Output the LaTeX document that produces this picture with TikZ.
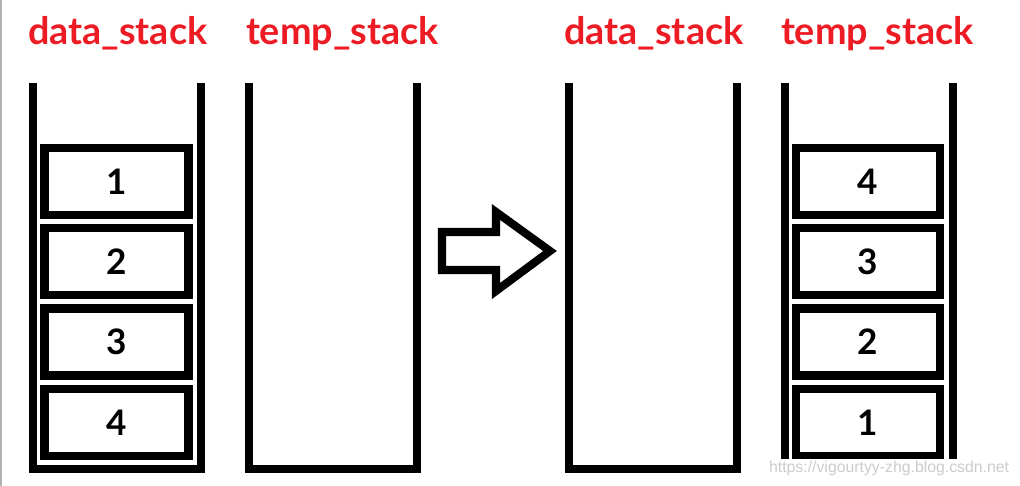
\documentclass[tikz,border=0pt]{standalone}
\usepackage{fontspec}
\setmainfont{Lato}
\newfontfamily\wmfont{Liberation Sans}
\definecolor{lblred}{RGB}{237,28,36}
\begin{document}
\begin{tikzpicture}[x=0.02cm,y=-0.02cm,
  wall/.style={line width=4.6pt,line join=miter},
  stackarea/.style={minimum width=3.36cm,minimum height=7.72cm,inner sep=0pt},
  item/.style={draw,line width=4.7pt,minimum width=2.88cm,minimum height=1.34cm,inner sep=0pt,font=\bfseries\fontsize{20}{24}\selectfont},
  title/.style={text=lblred,anchor=base west,inner sep=0pt,font=\bfseries\fontsize{21.5}{26}\selectfont}]
  \useasboundingbox (0,0) rectangle (1020,486);
  \draw[gray!60,line width=1pt] (0.8,0) -- (0.8,486);
  \foreach \n/\x in {ds1/117,ts1/333,ds2/653,ts2/869} {
    \node[stackarea] (\n) at (\x,276) {};
    \draw[wall] (\n.north west) -- (\n.south west) -- (\n.south east) -- (\n.north east);
  }
  \node[title] (lds1) at ([xshift=-0.1cm,yshift=0.76cm]ds1.north west) {data\_stack};
  \node[title] (lts1) at ([xshift=-0.06cm,yshift=0.76cm]ts1.north west) {temp\_stack};
  \node[title] (lds2) at ([xshift=-0.1cm,yshift=0.76cm]ds2.north west) {data\_stack};
  \node[title] (lts2) at ([xshift=-0.08cm,yshift=0.76cm]ts2.north west) {temp\_stack};
  \foreach \v/\y in {1/181.5,2/261.5,3/342,4/422.5} \node[item] (a\v) at (116.5,\y) {\v};
  \foreach \v/\y in {4/181.5,3/261.5,2/342,1/422.5} \node[item] (b\v) at (868,\y) {\v};
  \draw[wall] (442,232) -- (496,232) -- (496,212) -- (550,251) -- (496,291) -- (496,270) -- (442,270) -- cycle;
  \node[text=gray!40,fill=white,inner sep=1pt,anchor=base west,font=\wmfont\fontsize{9}{11}\selectfont] (mark) at (767,472) {https://vigourtyy-zhg.blog.csdn.net};
\end{tikzpicture}
\end{document}
